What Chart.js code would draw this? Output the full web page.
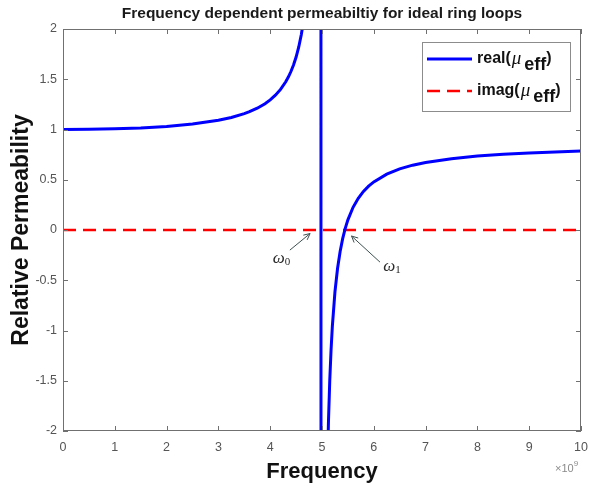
<!DOCTYPE html>
<html>
<head>
<meta charset="utf-8">
<script src="https://cdn.jsdelivr.net/npm/chart.js@4.4.1/dist/chart.umd.min.js"></script>
<style>
  html, body { margin: 0; padding: 0; background: #ffffff; }
  canvas { display: block; }
</style>
</head>
<body>
<canvas id="c" width="590" height="489"></canvas>
<script>
// ---- Data (frequency in units of 1e9) ----
const freq = [0, 0.5, 1, 1.5, 2, 2.5, 3, 3.25, 3.5, 3.6, 3.75, 3.9, 4, 4.1, 4.2, 4.3, 4.35, 4.4, 4.45, 4.5, 4.55, 4.6, 4.65, 4.7, 4.97,
              4.99, 5.1, 5.125, 5.15, 5.175, 5.2, 5.25, 5.3, 5.35, 5.4, 5.45, 5.5, 5.6, 5.7, 5.8, 5.9, 6, 6.25, 6.5, 6.75, 7, 7.5, 8, 8.5, 9, 9.5, 10];
const realMu = [1.000, 1.002, 1.007, 1.016, 1.031, 1.055, 1.092, 1.120, 1.158, 1.177, 1.212, 1.257, 1.295, 1.341, 1.399, 1.475, 1.522, 1.577, 1.642, 1.721, 1.819, 1.942, 2.102, 2.321, 41.4,
                -39.3, -2.482, -1.903, -1.494, -1.191, -0.956, -0.616, -0.383, -0.213, -0.084, 0.019, 0.101, 0.226, 0.316, 0.384, 0.437, 0.479, 0.556, 0.608, 0.645, 0.672, 0.710, 0.736, 0.753, 0.767, 0.777, 0.785];
const imagFreq = [0, 10];
const imagMu = [0, 0];

const xTickLabels = ['0', '1', '2', '3', '4', '5', '6', '7', '8', '9', '10'];
const yTickLabels = { '-2': '-2', '-1.5': '-1.5', '-1': '-1', '-0.5': '-0.5', '0': '0', '0.5': '0.5', '1': '1', '1.5': '1.5', '2': '2' };

const titleText = 'Frequency dependent permeabiltiy for ideal ring loops';
const xTitle = 'Frequency';
const yTitle = 'Relative Permeability';
const seriesNames = ['real', 'imag'];

// annotation anchors in data units: [labelX, labelY, arrowTailX, arrowTailY, arrowHeadX, arrowHeadY]
const omega0Note = [4.22, -0.28, 4.38, -0.20, 4.77, -0.035];
const omega1Note = [6.35, -0.36, 6.12, -0.32, 5.57, -0.06];

// ---- helpers ----
function richText(ctx, x, y, parts) {
  let cx = x;
  for (const p of parts) {
    ctx.font = p.font;
    cx += (p.pre || 0);
    ctx.fillText(p.text, cx, y + (p.dy || 0));
    cx += ctx.measureText(p.text).width + (p.post || 0);
  }
  return cx;
}
function richWidth(ctx, parts) {
  let w = 0;
  for (const p of parts) { ctx.font = p.font; w += ctx.measureText(p.text).width + (p.pre || 0) + (p.post || 0); }
  return w;
}

const decorPlugin = {
  id: 'decor',
  afterDatasetsDraw(chart) {
    const ctx = chart.ctx;
    const a = chart.chartArea;
    const xs = chart.scales.x, ys = chart.scales.y;
    ctx.save();
    // frame
    ctx.strokeStyle = '#707070';
    ctx.lineWidth = 1;
    ctx.strokeRect(Math.round(a.left) + 0.5, Math.round(a.top) + 0.5, Math.round(a.right - a.left) - 1, Math.round(a.bottom - a.top) - 1);
    // inward ticks
    ctx.beginPath();
    const tl = 5;
    xs.ticks.forEach(t => {
      const px = Math.round(xs.getPixelForValue(t.value)) + 0.5;
      ctx.moveTo(px, a.bottom); ctx.lineTo(px, a.bottom - tl);
      ctx.moveTo(px, a.top); ctx.lineTo(px, a.top + tl);
    });
    ys.ticks.forEach(t => {
      const py = Math.round(ys.getPixelForValue(t.value)) + 0.5;
      ctx.moveTo(a.left, py); ctx.lineTo(a.left + tl, py);
      ctx.moveTo(a.right, py); ctx.lineTo(a.right - tl, py);
    });
    ctx.stroke();

    // title
    ctx.fillStyle = '#1a1a1a';
    ctx.font = 'bold 15.5px "Liberation Sans", Arial, sans-serif';
    ctx.textAlign = 'center';
    ctx.textBaseline = 'middle';
    ctx.fillText(titleText, (a.left + a.right) / 2, 14);

    // x10^9 exponent label
    ctx.fillStyle = '#8a8a8a';
    ctx.textAlign = 'left';
    ctx.textBaseline = 'alphabetic';
    richText(ctx, 555, 472, [
      { text: '\u00d710', font: '11px "Liberation Sans", Arial, sans-serif' },
      { text: '9', font: '8px "Liberation Sans", Arial, sans-serif', dy: -6 }
    ]);

    // legend box
    const lx = 422, ly = 42, lw = 148, lh = 69;
    ctx.fillStyle = '#ffffff';
    ctx.fillRect(lx, ly, lw, lh);
    ctx.strokeStyle = '#8c8c8c';
    ctx.lineWidth = 1;
    ctx.strokeRect(lx + 0.5, ly + 0.5, lw, lh);
    const rows = [
      { y: 59, ds: chart.data.datasets[0] },
      { y: 91, ds: chart.data.datasets[1] }
    ];
    rows.forEach((r, i) => {
      ctx.beginPath();
      ctx.strokeStyle = r.ds.borderColor;
      ctx.lineWidth = r.ds.borderWidth;
      ctx.setLineDash(r.ds.borderDash || []);
      ctx.moveTo(427, r.y); ctx.lineTo(472, r.y);
      ctx.stroke();
      ctx.setLineDash([]);
      ctx.fillStyle = '#111111';
      ctx.textBaseline = 'middle';
      ctx.textAlign = 'left';
      richText(ctx, 477, r.y, [
        { text: seriesNames[i] + '(', font: 'bold 16px "Liberation Sans", Arial, sans-serif' },
        { text: '\u03bc', font: 'italic 19px "Liberation Serif", serif', pre: 1, post: 3 },
        { text: 'eff', font: 'bold 18px "Liberation Sans", Arial, sans-serif', dy: 6 },
        { text: ')', font: 'bold 16px "Liberation Sans", Arial, sans-serif' }
      ]);
    });

    // annotations with arrows
    function note(n, sub) {
      const [lxv, lyv, txv, tyv, hxv, hyv] = n;
      const tx = xs.getPixelForValue(txv), ty = ys.getPixelForValue(tyv);
      const hx = xs.getPixelForValue(hxv), hy = ys.getPixelForValue(hyv);
      ctx.strokeStyle = '#3d5050';
      ctx.fillStyle = '#3d5050';
      ctx.lineWidth = 1;
      ctx.beginPath();
      ctx.moveTo(tx, ty); ctx.lineTo(hx, hy);
      ctx.stroke();
      const ang = Math.atan2(hy - ty, hx - tx);
      const L = 7, W = 0.45;
      ctx.beginPath();
      ctx.moveTo(hx, hy);
      ctx.lineTo(hx - L * Math.cos(ang - W), hy - L * Math.sin(ang - W));
      ctx.moveTo(hx, hy);
      ctx.lineTo(hx - L * Math.cos(ang + W), hy - L * Math.sin(ang + W));
      ctx.stroke();
      const px = xs.getPixelForValue(lxv), py = ys.getPixelForValue(lyv);
      ctx.fillStyle = '#2a2a2a';
      ctx.textBaseline = 'middle';
      const parts = [
        { text: '\u03c9', font: 'italic 17px "Liberation Serif", serif' },
        { text: sub, font: '11px "Liberation Serif", serif', dy: 4 }
      ];
      const w = richWidth(ctx, parts);
      richText(ctx, px - w / 2, py, parts);
    }
    note(omega0Note, '0');
    note(omega1Note, '1');
    ctx.restore();
  }
};

const chart = new Chart(document.getElementById('c'), {
  type: 'line',
  data: {
    datasets: [
      {
        label: 'real(\u03bc_eff)',
        data: freq.map((f, i) => ({ x: f, y: realMu[i] })),
        borderColor: '#0000ff',
        borderWidth: 3,
        pointRadius: 0,
        tension: 0,
        fill: false,
        clip: 0
      },
      {
        label: 'imag(\u03bc_eff)',
        data: imagFreq.map((f, i) => ({ x: f, y: imagMu[i] })),
        borderColor: '#ff0000',
        borderWidth: 2.5,
        borderDash: [13, 7],
        pointRadius: 0,
        tension: 0,
        fill: false,
        clip: 0
      }
    ]
  },
  options: {
    responsive: false,
    animation: false,
    devicePixelRatio: 1,
    layout: { padding: { top: 29, right: 9, left: 0, bottom: 0 } },
    plugins: {
      legend: { display: false },
      title: { display: false },
      tooltip: { enabled: false }
    },
    scales: {
      x: {
        type: 'linear',
        min: 0, max: 10,
        border: { display: false },
        grid: { display: false, drawTicks: false },
        ticks: {
          stepSize: 1,
          padding: 9,
          color: '#555555',
          font: { size: 12.5, family: '"Liberation Sans", Arial, sans-serif' },
          callback: (v) => xTickLabels[Math.round(v)] ?? ''
        },
        title: {
          display: true,
          text: xTitle,
          color: '#111111',
          font: { size: 22, weight: 'bold', family: '"Liberation Sans", Arial, sans-serif' },
          padding: { top: 0, bottom: 4 }
        },
        afterFit: (s) => { s.height = 58; s.paddingLeft = 0; s.paddingRight = 0; }
      },
      y: {
        type: 'linear',
        min: -2, max: 2,
        border: { display: false },
        grid: { display: false, drawTicks: false },
        ticks: {
          stepSize: 0.5,
          padding: 6,
          color: '#555555',
          font: { size: 12.5, family: '"Liberation Sans", Arial, sans-serif' },
          callback: (v) => yTickLabels[String(Math.round(v * 10) / 10)] ?? ''
        },
        title: {
          display: true,
          text: yTitle,
          color: '#111111',
          font: { size: 23, weight: 'bold', family: '"Liberation Sans", Arial, sans-serif' },
          padding: { top: 8, bottom: 0 }
        },
        afterFit: (s) => { s.width = 63; s.paddingTop = 0; s.paddingBottom = 0; }
      }
    }
  },
  plugins: [decorPlugin]
});
</script>
</body>
</html>
